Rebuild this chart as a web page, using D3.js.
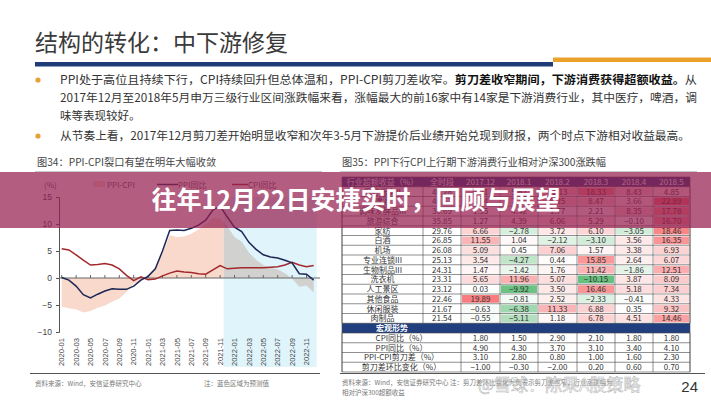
<!DOCTYPE html>
<html><head><meta charset="utf-8">
<script src="https://cdn.jsdelivr.net/npm/d3@7/dist/d3.min.js"></script>
<style>html,body{margin:0;padding:0;background:#fff;} svg{display:block;font-family:"Noto Sans CJK SC","Noto Sans",sans-serif;}</style>
</head><body><svg id="c" width="711" height="400"></svg>
<script>
// ---------- DATA ----------
const months = ["2020-01","2020-02","2020-03","2020-04","2020-05","2020-06","2020-07","2020-08","2020-09","2020-10","2020-11","2020-12",
 "2021-01","2021-02","2021-03","2021-04","2021-05","2021-06","2021-07","2021-08","2021-09","2021-10","2021-11","2021-12",
 "2022-01","2022-02","2022-03","2022-04","2022-05","2022-06","2022-07","2022-08","2022-09","2022-10","2022-11","2022-12"];
const tickMonths = ["2020-01","2020-03","2020-05","2020-07","2020-09","2020-11","2021-01","2021-03","2021-05","2021-07","2021-09","2021-11",
 "2022-01","2022-03","2022-05","2022-07","2022-09","2022-11"];
const ppi = [0.1,-0.4,-1.5,-3.1,-3.7,-3.0,-2.4,-2.0,-2.1,-2.1,-1.5,-0.4, 0.3,1.7,5.0,8.8,8.9,8.8,9.2,9.8,10.7,12.6,13.3,11.3, 9.4,8.6,6.6,5.3,4.3,3.9,3.7,3.3,2.8,0.8,0.7,-0.4];
const cpi = [5.4,5.2,4.3,3.3,2.4,2.5,2.7,2.4,1.7,0.5,-0.5,0.2, -0.3,-0.2,0.4,0.9,1.3,1.1,1.0,0.8,0.7,1.5,2.3,1.7, 1.8,1.9,1.9,1.9,1.9,2.0,2.1,2.4,2.9,2.4,2.1,2.3];
const spread = [-5.3,-5.6,-5.8,-6.4,-6.1,-5.5,-5.1,-4.4,-3.8,-2.6,-1.0,-0.6, 0.6,1.9,4.6,7.9,7.6,7.7,8.2,9.0,10.0,11.1,11.0,9.6, 7.6,6.7,4.7,3.4,2.4,1.9,1.6,0.9,-0.1,-1.6,-1.4,-2.7];
const yTicks = [15,10,5,0,-5,-10];
const forecastStart = "2021-12";
const seriesNames = ["PPI-CPI","PPI同比","CPI同比"];

const tableHeader = ["行业超额收益（%）","全时段","2017.12","2018.1","2018.2","2018.3","2018.4","2018.5"];
const industries = ["医疗服务II","啤酒","调味发酵品III","旅游综合","家纺","白酒","机场","专业连锁III","生物制品III","洗衣机","人工景区","其他食品","休闲服装","肉制品"];
const fullPeriod = [46.28,40.61,36.69,35.85,29.76,26.85,26.08,25.13,24.31,23.31,23.12,22.46,21.67,21.54];
const m201712 = [6.21,3.74,1.55,1.27,6.66,11.55,5.09,3.54,1.47,5.65,0.03,19.89,-0.63,-0.55];
const m201801 = [5.82,7.36,4.42,4.39,-2.78,1.04,0.45,-4.27,-1.42,11.96,-9.92,-0.81,-6.38,-5.11];
const m201802 = [11.13,9.25,1.77,6.06,3.72,-2.12,7.06,0.44,1.76,5.07,3.50,2.52,11.33,1.18];
const m201803 = [18.33,8.47,2.21,5.29,6.10,-3.10,1.57,15.85,11.42,-10.15,16.46,-2.33,6.88,6.78];
const m201804 = [8.43,3.66,8.35,-0.10,-3.05,3.56,3.38,2.64,-1.86,3.87,5.18,-0.41,0.35,4.51];
const m201805 = [4.85,22.89,17.78,16.70,18.46,16.35,6.93,6.07,12.51,8.09,7.34,4.33,9.32,14.46];
const macroTitle = "宏观形势";
const macroNames = ["CPI同比（%）","PPI同比（%）","PPI-CPI剪刀差（%）","剪刀差环比变化（%）"];
const macroCPI = [1.80,1.50,2.90,2.10,1.80,1.80];
const macroPPI = [4.90,4.30,3.70,3.10,3.40,4.10];
const macroGap = [3.10,2.80,0.80,1.00,1.60,2.30];
const macroGapChg = [-1.00,-0.30,-2.00,0.20,0.60,0.70];

// ---------- SVG ----------
const svg = d3.select("#c");
svg.append("rect").attr("width",711).attr("height",400).attr("fill","#fff");

// Page title & bars
svg.append("text").attr("x",35).attr("y",51).attr("font-size",23).attr("fill","#3a3a3a").text("结构的转化：中下游修复");
svg.append("rect").attr("x",35).attr("y",62).attr("width",518).attr("height",4.5).attr("fill","#1f3c78");
svg.append("rect").attr("x",553).attr("y",57.5).attr("width",158).attr("height",4.5).attr("fill","#e9a12a");

// Bullets
const bullets = [84,140];
svg.selectAll("circle.b").data(bullets).enter().append("circle").attr("cx",38).attr("cy",d=>d-4).attr("r",2.6).attr("fill","#e9a03a");
const t1 = svg.append("text").attr("x",60).attr("y",84).attr("font-size",11.5).attr("fill","#333").attr("textLength",637).attr("lengthAdjust","spacingAndGlyphs");
t1.append("tspan").text("PPI处于高位且持续下行，CPI持续回升但总体温和，PPI-CPI剪刀差收窄。");
t1.append("tspan").attr("font-weight","bold").attr("fill","#111").text("剪刀差收窄期间，下游消费获得超额收益。");
t1.append("tspan").text("从");
svg.append("text").attr("x",60).attr("y",102).attr("font-size",11.5).attr("fill","#333").attr("textLength",637).attr("lengthAdjust","spacingAndGlyphs")
  .text("2017年12月至2018年5月申万三级行业区间涨跌幅来看，涨幅最大的前16家中有14家是下游消费行业，其中医疗，啤酒，调");
svg.append("text").attr("x",60).attr("y",120).attr("font-size",11.5).attr("fill","#333").text("味等表现较好。");
svg.append("text").attr("x",60).attr("y",140).attr("font-size",11.5).attr("fill","#333").attr("textLength",630).attr("lengthAdjust","spacingAndGlyphs")
  .text("从节奏上看，2017年12月剪刀差开始明显收窄和次年3-5月下游提价后业绩开始兑现到财报，两个时点下游相对收益最高。");

// Figure titles
svg.append("text").attr("x",37).attr("y",166).attr("font-size",10.2).attr("fill","#444").text("图34：PPI-CPI裂口有望在明年大幅收敛");
svg.append("text").attr("x",342).attr("y",166).attr("font-size",10.2).attr("fill","#444").attr("textLength",264).attr("lengthAdjust","spacingAndGlyphs").text("图35：PPI下行CPI上行期下游消费行业相对沪深300涨跌幅");
svg.append("line").attr("x1",35).attr("x2",322).attr("y1",171.5).attr("y2",171.5).attr("stroke","#bbb").attr("stroke-width",0.8);
svg.append("line").attr("x1",340).attr("x2",697).attr("y1",171.5).attr("y2",171.5).attr("stroke","#bbb").attr("stroke-width",0.8);

// ---------- LEFT CHART ----------
const x = d3.scalePoint().domain(months).range([61.7,313.7]);
const y = d3.scaleLinear().domain([-10,15]).range([332,197]);
const step = x.step();
const fx0 = x(forecastStart) - step/2;

// forecast region
svg.append("rect").attr("x",fx0).attr("y",y(15)).attr("width",x(months[months.length-1])+3-fx0).attr("height",367-y(15)).attr("fill","#e0f4fb");

const defs = svg.append("defs");
defs.append("clipPath").attr("id","pre").append("rect").attr("x",0).attr("y",0).attr("width",fx0).attr("height",400);
defs.append("clipPath").attr("id","post").append("rect").attr("x",fx0).attr("y",0).attr("width",400).attr("height",400);

const idx = d3.range(months.length);
const area = d3.area().x(i=>x(months[i])).y0(y(0)).y1(i=>y(spread[i]));
svg.append("path").attr("d",area(idx)).attr("fill","#f8d9cb").attr("clip-path","url(#pre)");
svg.append("path").attr("d",area(idx)).attr("fill","#cfcdcb").attr("opacity",0.9).attr("clip-path","url(#post)");

// axes
const yAxis = d3.axisLeft(y).tickValues(yTicks).tickSize(3).tickPadding(4);
const gy = svg.append("g").attr("transform","translate(59,0)").call(yAxis);
gy.select(".domain").attr("stroke","#555");
gy.selectAll(".tick line").attr("stroke","#555");
gy.selectAll("text").attr("font-size",8.5).attr("fill","#444").attr("font-family","Liberation Sans, Arial, sans-serif");

svg.append("line").attr("x1",59).attr("x2",320).attr("y1",y(0)).attr("y2",y(0)).attr("stroke","#666").attr("stroke-width",1);
svg.selectAll("line.xt").data(tickMonths).enter().append("line")
  .attr("x1",d=>x(d)).attr("x2",d=>x(d)).attr("y1",y(0)).attr("y2",y(0)-3).attr("stroke","#666");
svg.selectAll("text.xl").data(tickMonths).enter().append("text")
  .attr("transform",d=>`translate(${x(d)+2.7},338) rotate(-90)`).attr("text-anchor","end")
  .attr("font-size",7.6).attr("fill","#444").attr("font-family","Liberation Sans, Arial, sans-serif").text(d=>d);

// lines
const line = arr => d3.line().x((d,i)=>x(months[i])).y(d=>y(d))(arr);
svg.append("path").attr("d",line(cpi)).attr("fill","none").attr("stroke","#a3282c").attr("stroke-width",1.5);
svg.append("path").attr("d",line(ppi)).attr("fill","none").attr("stroke","#1d2755").attr("stroke-width",1.5);

// legend
svg.append("text").attr("x",44).attr("y",188).attr("font-size",8).attr("fill","#555").text("(%)");
svg.append("rect").attr("x",93).attr("y",181).attr("width",12).attr("height",6).attr("fill","#f8d9cb");
svg.append("text").attr("x",107).attr("y",188).attr("font-size",8).attr("fill","#555").text(seriesNames[0]);
svg.append("line").attr("x1",157).attr("x2",178).attr("y1",184.5).attr("y2",184.5).attr("stroke","#1d2755").attr("stroke-width",1.5);
svg.append("text").attr("x",178).attr("y",188).attr("font-size",8).attr("fill","#555").text(seriesNames[1]);
svg.append("line").attr("x1",232).attr("x2",248).attr("y1",184.5).attr("y2",184.5).attr("stroke","#a3282c").attr("stroke-width",1.5);
svg.append("text").attr("x",248).attr("y",188).attr("font-size",8).attr("fill","#555").text(seriesNames[2]);

// ---------- TABLE ----------
const colEdges = [342,423,461,500,538,577,615,653,690];
const tTop = 177, rowH = 9.75;
const cx = c => (colEdges[c]+colEdges[c+1])/2;
const ry = r => tTop + r*rowH;
const heat = d3.scaleLinear().domain([-10.5,0,23]).range(["#63be7b","#ffffff","#f8696b"]).clamp(true);
const monthCols = [m201712,m201801,m201802,m201803,m201804,m201805];
const fmt = d3.format(".2f");
const tg = svg.append("g");

// header
tg.append("rect").attr("x",colEdges[0]).attr("y",ry(0)).attr("width",colEdges[8]-colEdges[0]).attr("height",rowH).attr("fill","#213f7e");
tg.selectAll("text.h").data(tableHeader).enter().append("text")
  .attr("x",(d,i)=>cx(i)).attr("y",ry(0)+rowH-2).attr("text-anchor","middle").attr("font-size",8).attr("fill","#fff").text(d=>d);

// industry rows
industries.forEach((name,r)=>{
  const yy = ry(r+1);
  monthCols.forEach((arr,c)=>{
    tg.append("rect").attr("x",colEdges[c+2]+1).attr("y",yy+1).attr("width",colEdges[c+3]-colEdges[c+2]-2).attr("height",rowH-2).attr("fill",heat(arr[r]));
  });
  const vals = [name, fmt(fullPeriod[r])].concat(monthCols.map(a=>fmt(a[r])));
  vals.forEach((v,c)=>{
    tg.append("text").attr("x",cx(c)).attr("y",yy+rowH-2).attr("text-anchor","middle").attr("font-size",8).attr("fill","#333").text(v);
  });
});
// macro title row
const mr = industries.length+1;
tg.append("rect").attr("x",colEdges[0]).attr("y",ry(mr)).attr("width",colEdges[8]-colEdges[0]).attr("height",rowH).attr("fill","#213f7e");
tg.append("text").attr("x",392).attr("y",ry(mr)+rowH-2).attr("text-anchor","middle").attr("font-size",8).attr("font-weight","bold").attr("fill","#fff").text(macroTitle);
const macroVals = [macroCPI,macroPPI,macroGap,macroGapChg];
macroNames.forEach((n,k)=>{
  const yy = ry(mr+1+k);
  tg.append("text").attr("x",(colEdges[0]+colEdges[2])/2).attr("y",yy+rowH-2).attr("text-anchor","middle").attr("font-size",8).attr("fill","#333").text(n);
  macroVals[k].forEach((v,c)=>{
    tg.append("text").attr("x",cx(c+2)).attr("y",yy+rowH-2).attr("text-anchor","middle").attr("font-size",8).attr("fill","#333").text(fmt(v));
  });
});
// grid lines
const nRows = mr+1+macroNames.length;
d3.range(nRows+1).forEach(r=>{
  tg.append("line").attr("x1",colEdges[0]).attr("x2",colEdges[8]).attr("y1",ry(r)).attr("y2",ry(r)).attr("stroke","#444").attr("stroke-width",0.6);
});
colEdges.forEach((e,c)=>{
  // body section
  tg.append("line").attr("x1",e).attr("x2",e).attr("y1",ry(1)).attr("y2",ry(mr)).attr("stroke","#444").attr("stroke-width",0.6);
  if (c!==1) tg.append("line").attr("x1",e).attr("x2",e).attr("y1",ry(mr+1)).attr("y2",ry(nRows)).attr("stroke","#444").attr("stroke-width",0.6);
});
[colEdges[0],colEdges[8]].forEach(e=>{
  tg.append("line").attr("x1",e).attr("x2",e).attr("y1",ry(0)).attr("y2",ry(nRows)).attr("stroke","#444").attr("stroke-width",0.6);
});

// ---------- FOOTER ----------
svg.append("line").attr("x1",30).attr("x2",320).attr("y1",373.5).attr("y2",373.5).attr("stroke","#555").attr("stroke-width",1);
svg.append("line").attr("x1",340).attr("x2",705).attr("y1",373.5).attr("y2",373.5).attr("stroke","#555").attr("stroke-width",1);
svg.append("text").attr("x",35).attr("y",386).attr("font-size",6.5).attr("fill","#777").text("资料来源：Wind，安信证券研究中心");
svg.append("text").attr("x",204).attr("y",386).attr("font-size",6.5).attr("fill","#777").text("注：蓝色区域为预测值");
svg.append("text").attr("x",342).attr("y",385).attr("font-size",6.5).attr("fill","#777").text("资料来源：Wind，安信证券研究中心  注：剪刀差环比变化为负表示剪刀差收窄，行业涨跌幅为");
svg.append("text").attr("x",342).attr("y",395).attr("font-size",6.5).attr("fill","#777").text("相对沪深300超额收益");
svg.append("text").attr("x",478).attr("y",391).attr("font-size",17).attr("fill","#fff").attr("stroke","#aaa").attr("stroke-width",0.6).attr("opacity",0.8).text("@雪球：陈果A股策略");
svg.append("text").attr("x",698).attr("y",392).attr("text-anchor","end").attr("font-size",15).attr("fill","#333").attr("font-family","Liberation Sans, Arial, sans-serif").text("24");

// ---------- BANNER ----------
svg.append("rect").attr("x",0).attr("y",172).attr("width",711).attr("height",56).attr("fill","rgba(150,30,80,0.72)");
svg.append("text").attr("x",356).attr("y",209).attr("text-anchor","middle").attr("font-size",25).attr("font-weight","bold").attr("fill","#fff").text("往年12月22日安捷实时，回顾与展望");
</script></body></html>
